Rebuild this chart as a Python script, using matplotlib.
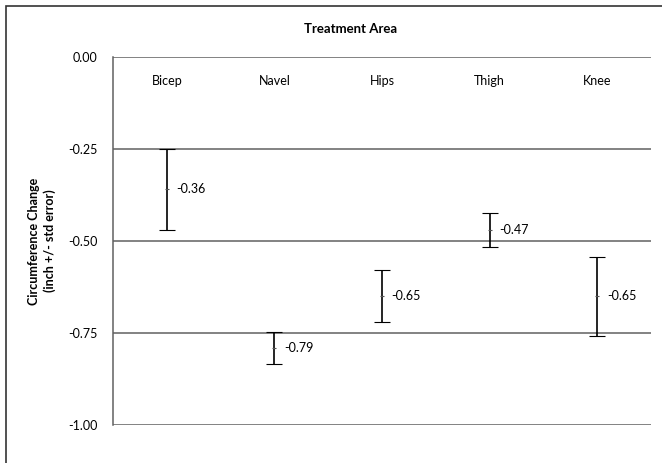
import matplotlib
matplotlib.use('Agg')
import matplotlib.pyplot as plt
import matplotlib.transforms as mtransforms
from matplotlib.patches import Rectangle

plt.rcParams['font.family'] = ['Lato', 'DejaVu Sans']

# mean circumference change per area, with std error
areas = ['Bicep', 'Navel', 'Hips', 'Thigh', 'Knee']
means = [-0.36, -0.79, -0.65, -0.47, -0.65]
std_err = [0.11, 0.043, 0.07, 0.045, 0.107]
y_ticks = [0.00, -0.25, -0.50, -0.75, -1.00]

fig = plt.figure(figsize=(6.62, 4.63), dpi=100)
ax = fig.add_axes([113 / 662, 1 - 425 / 463, 538 / 662, 368 / 463])

# chart frame (only the top and left edges fall inside the image)
fig.patches.append(Rectangle((6 / 662, -0.1), 1.2, 1 - 5.5 / 463 + 0.1,
                             transform=fig.transFigure, fill=False,
                             edgecolor='#333333', linewidth=1.2))

x = list(range(len(areas)))
ax.errorbar(x, means, yerr=std_err, fmt='_', color='black', ecolor='black',
            elinewidth=1.2, capsize=5.5, capthick=2.5, markersize=3,
            markeredgewidth=0.8, markeredgecolor='#555555', zorder=3)

for xi, m in zip(x, means):
    ax.annotate(f'{m:.2f}', (xi, m), xytext=(7, 0), textcoords='offset points',
                va='center', ha='left', fontsize=9)

ax.set_xlim(-0.5, 4.5)
ax.set_ylim(-1.0, 0.0)
ax.set_yticks(y_ticks)
ax.set_yticklabels([f'{v:.2f}' for v in y_ticks], fontsize=9)
ax.set_xticks([])
ax.tick_params(axis='y', length=0, pad=11)
ax.yaxis.grid(True, color='#606060', linewidth=1.1)
ax.set_axisbelow(True)
for side in ['top', 'right', 'bottom']:
    ax.spines[side].set_visible(False)
ax.spines['left'].set_color('#606060')
ax.spines['left'].set_linewidth(1.1)

# category names sit inside the plot just under the zero line
trans = mtransforms.blended_transform_factory(ax.transData, ax.transAxes)
for xi, name in zip(x, areas):
    ax.text(xi, 1 - 24 / 368, name, transform=trans, ha='center', va='center',
            fontsize=9)

fig.text(351 / 662, 1 - 29 / 463, 'Treatment Area', ha='center', va='center',
         fontsize=9.5, fontweight='bold')
fig.text(42 / 662, 1 - 241 / 463, 'Circumference Change\n(inch +/- std error)',
         rotation=90, ha='center', va='center', fontsize=9, fontweight='bold',
         linespacing=1.25)

fig.savefig('out.png', dpi=100)
